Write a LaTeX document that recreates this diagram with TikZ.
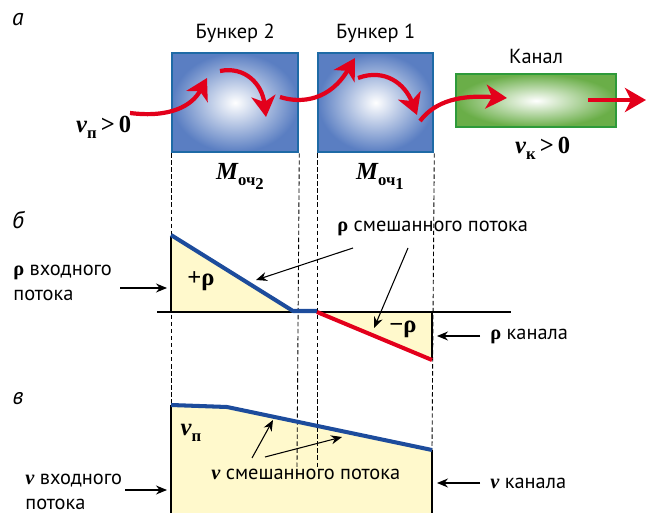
\documentclass[tikz,border=0pt]{standalone}
\usepackage{fontspec}
\usepackage{tikz}
\usepackage{xcolor}
\usetikzlibrary{arrows.meta, positioning, calc}
\setmainfont{PT Sans}
\newfontfamily\serfont{Liberation Serif}
\definecolor{bunkblue}{HTML}{5A7EC2}
\definecolor{bunkedge}{HTML}{1E6AA6}
\definecolor{canalgreen}{HTML}{6AAE48}
\definecolor{canaledge}{HTML}{2E9A3A}
\definecolor{flowred}{HTML}{E3001B}
\definecolor{lineblue}{HTML}{1D4C9C}
\definecolor{areayellow}{HTML}{FFF9CC}
\newcommand\quant[1]{{\serfont\bfseries\itshape #1}}
\newcommand\lowidx[1]{\raisebox{-0.5ex}{\serfont\bfseries\fontsize{9.5}{9.5}\selectfont #1}}
\newcommand\rhosym{{\serfont\bfseries ρ}}

\begin{document}
\begin{tikzpicture}[x=0.02cm, y=-0.02cm, font=\fontsize{11.6}{14}\selectfont,
  bunker/.style={draw=bunkedge, line width=1.3pt, inner color=white, outer color=bunkblue, anchor=north west},
  flow/.style={flowred, line width=2.4pt, -{Stealth[length=0.42cm, width=0.48cm, inset=0.12cm]}},
  pointer/.style={-{Stealth[length=2.2mm, width=1.8mm]}, line width=0.6pt},
  guide/.style={dashed, line width=0.5pt, dash pattern=on 2.5pt off 1.5pt},
  axis/.style={line width=1.3pt},
  curve/.style={line width=2.3pt, line join=round},
  bigser/.style={font=\fontsize{14}{16}\selectfont},
  partlabel/.style={font=\fontsize{13.5}{14}\selectfont\itshape}]
  \useasboundingbox (0,0) rectangle (646,513);

  % a: bunkers and channel
  \node[partlabel] (pa) at (18,20) {а};
  \node[bunker, minimum width=126*0.02cm, minimum height=99*0.02cm] (bunk2) at (171,52) {};
  \node[bunker, minimum width=115*0.02cm, minimum height=99*0.02cm] (bunk1) at (317,52) {};
  \node[draw=canaledge, line width=1.3pt, inner color=white, outer color=canalgreen, anchor=north west,
    minimum width=160*0.02cm, minimum height=53*0.02cm] (canal) at (455,73) {};
  \node[above=2pt of bunk2] (bunk2t) {Бункер 2};
  \node[above=2pt of bunk1] (bunk1t) {Бункер 1};
  \node[above=2pt of canal] (canalt) {Канал};
  \node[anchor=west, bigser] (vin) at (70,127) {\quant{v}\lowidx{п}\,{\serfont\bfseries >\,0}};
  \node[anchor=west, bigser] (vout) at (509,148) {\quant{v}\lowidx{к}\,{\serfont\bfseries >\,0}};
  \node[anchor=west, bigser] (mass2) at (210,176) {\quant{M}\lowidx{оч\lowidx{2}}};
  \node[anchor=west, bigser] (mass1) at (350,176) {\quant{M}\lowidx{оч\lowidx{1}}};

  \draw[flow] (130,113) .. controls (170,118) and (192,106) .. (207,78);
  \draw[flow] (220,71) .. controls (245,66) and (262,84) .. (266,117);
  \draw[flow] (280,97) .. controls (302,104) and (330,100) .. (355,58);
  \draw[flow] (358,78) .. controls (385,68) and (405,84) .. (417,115);
  \draw[flow] (420,121) .. controls (436,100) and (462,95) .. (507,98);
  \draw[flow] (588,100) -- (646,100);

  % fills under the curves
  \fill[areayellow] (171,235) -- (293,311) -- (171,311) -- cycle;
  \fill[areayellow] (317,312) -- (432,360) -- (432,312) -- cycle;
  \fill[areayellow] (171,405) -- (227,407) -- (432,450) -- (432,513) -- (171,513) -- cycle;

  % guide lines
  \draw[guide] (bunk2.south west) -- (171,405);
  \draw[guide] (bunk2.south east) -- (297,467);
  \draw[guide] (bunk1.south west) -- (317,467);
  \draw[guide] (bunk1.south east) -- (432,450);

  % b: density
  \node[partlabel] (pb) at (18,220) {б};
  \draw[axis] (157,312) -- (511,312);
  \draw[axis] (171,236) -- (171,312);
  \draw[axis] (432,312) -- (432,360);
  \draw[curve, lineblue] (171,235) -- (293,311) -- (317,311);
  \draw[curve, flowred] (317,312) -- (432,360);
  \node[bigser] (rhoplus) at (201,281) {\serfont\bfseries +ρ};
  \node[bigser] (rhominus) at (403,329) {\serfont\bfseries −ρ};
  \node[anchor=west, align=left, inner sep=0pt] (rhoin) at (13,283) {\rhosym{} входного\\потока};
  \node[anchor=west, inner sep=0pt] (rhomix) at (337,228) {\rhosym{} смешанного потока};
  \node[anchor=west, inner sep=0pt] (rhocan) at (490,336) {\rhosym{} канала};
  \coordinate (rhoinTip) at (167,288);
  \coordinate (rhomixA) at (353,248);
  \coordinate (rhomixB) at (408,248);
  \coordinate (rhomixTipA) at (256,280);
  \coordinate (rhomixTipB) at (374,328);
  \coordinate (rhocanTip) at (437,336);
  \draw[pointer] (120,288) -- (rhoinTip);
  \draw[pointer] (rhomixA) -- (rhomixTipA);
  \draw[pointer] (rhomixB) -- (rhomixTipB);
  \draw[pointer] (480,336) -- (rhocanTip);

  % c: velocity
  \node[partlabel] (pc) at (18,399) {в};
  \draw[axis] (171,405) -- (171,513);
  \draw[axis] (432,450) -- (432,513);
  \draw[curve, lineblue] (171,405) -- (227,407) -- (432,450);
  \node[bigser] (vp) at (191,433) {\quant{v}\lowidx{п}};
  \node[anchor=west, align=left, inner sep=0pt] (vin2) at (25,492) {\quant{v} входного\\потока};
  \node[anchor=west, inner sep=0pt] (vmix) at (211,474) {\quant{v} смешанного потока};
  \node[anchor=west, inner sep=0pt] (vcan) at (490,483) {\quant{v} канала};
  \coordinate (vinTip) at (167,490);
  \coordinate (vmixA) at (252,458);
  \coordinate (vmixB) at (265,457);
  \coordinate (vmixTipA) at (273,420);
  \coordinate (vmixTipB) at (342,437);
  \coordinate (vcanTip) at (437,483);
  \draw[pointer] (125,490) -- (vinTip);
  \draw[pointer] (vmixA) -- (vmixTipA);
  \draw[pointer] (vmixB) -- (vmixTipB);
  \draw[pointer] (480,483) -- (vcanTip);
\end{tikzpicture}
\end{document}
